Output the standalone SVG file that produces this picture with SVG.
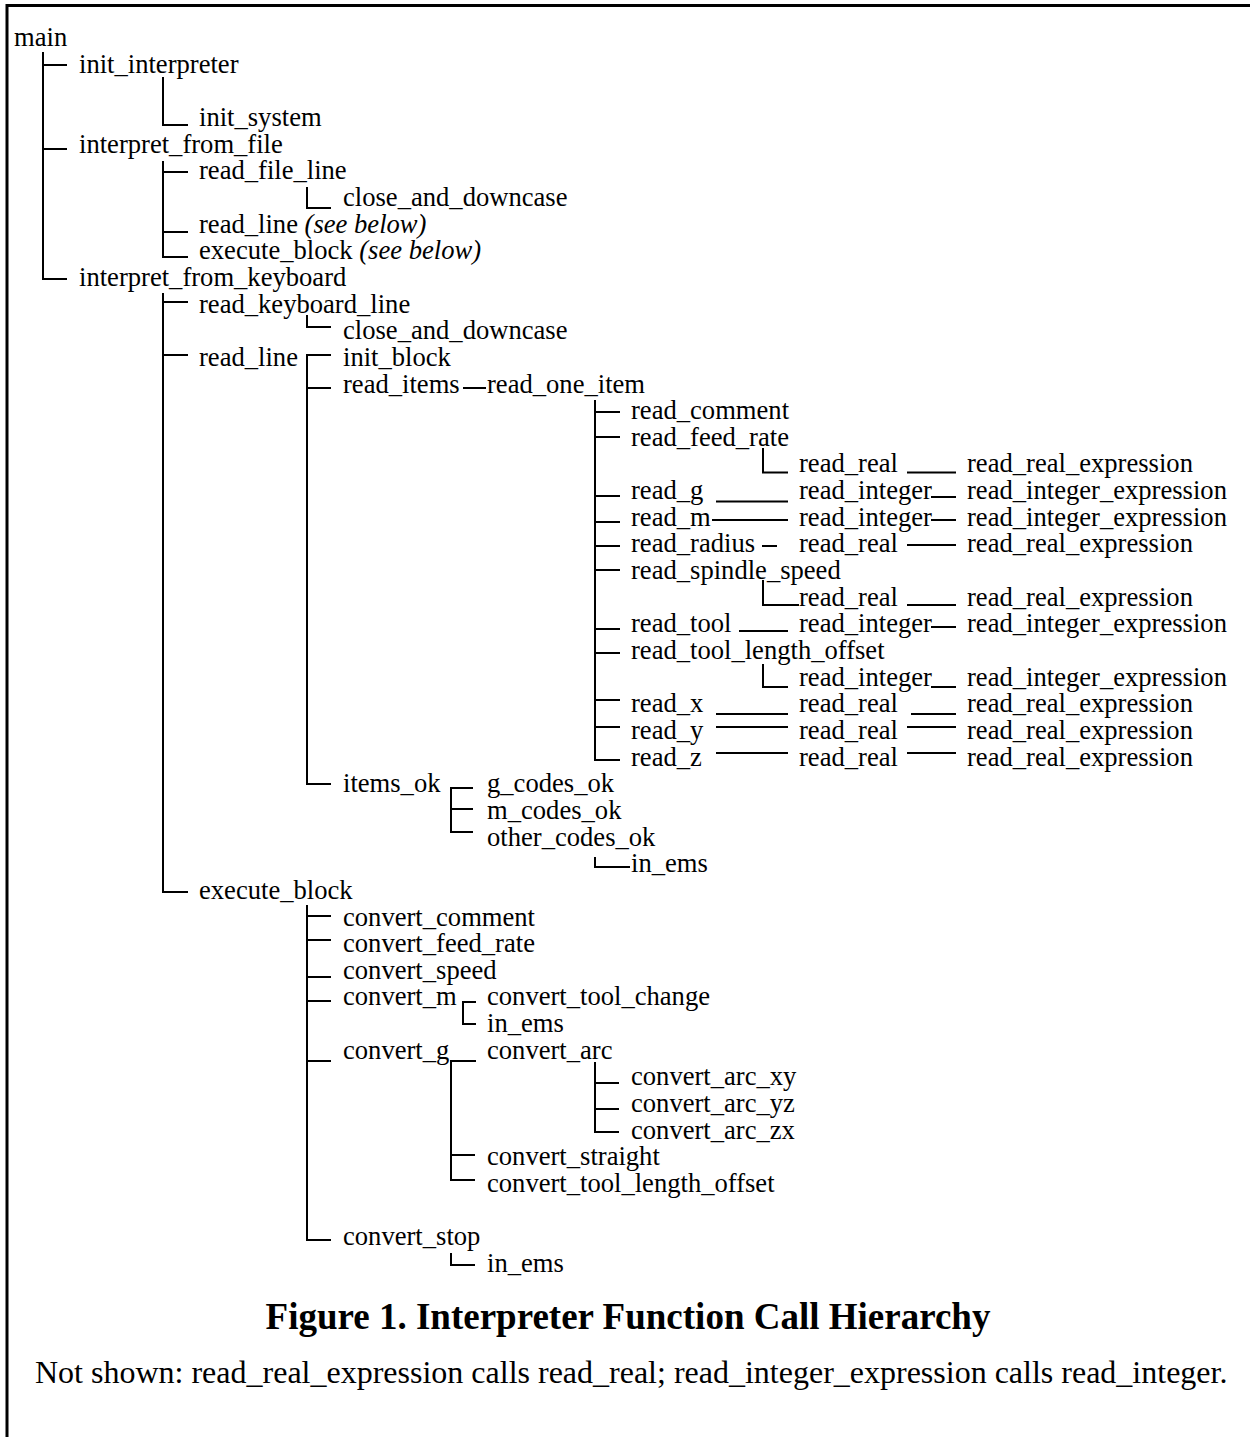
<svg xmlns="http://www.w3.org/2000/svg" width="1250" height="1437" viewBox="0 0 1250 1437">
<style>
text{font-family:"Liberation Serif","Times New Roman",serif;font-size:26.6px;fill:#000}
.it{font-style:italic}
.title{font-size:37px;font-weight:bold}
.note{font-size:32px}
.c path{fill:none;stroke:#000;stroke-width:2}
.frame{fill:none;stroke:#000;stroke-width:3}
</style>
<rect width="1250" height="1437" fill="#fff"/>
<path class="frame" d="M7,1437 V5.5 H1250"/>
<g class="c" id="connectors">
<path d="M43,52 V279 H67 M43,65 H67 M43,149 H67"/>
<path d="M163,77 V125 H188"/>
<path d="M163,161 V257 H188 M163,172 H188 M163,232 H188"/>
<path d="M307,187 V208 H331"/>
<path d="M163,293 V892 H188 M163,302 H188 M163,355 H188"/>
<path d="M307,315 V327 H331"/>
<path d="M331,355 H307 V784 H331 M307,388 H331"/>
<path d="M463,388 H486"/>
<path d="M595,400 V760 H620 M595,412 H620 M595,437 H620 M595,496 H620 M595,522 H620 M595,546 H620 M595,570 H620 M595,629 H620 M595,653 H620 M595,700 H620 M595,727 H620"/>
<path d="M763,448 V472.5 H788"/>
<path d="M907,472.5 H956"/>
<path d="M716,501.5 H788 M931,497 H956"/>
<path d="M712,520 H788 M931,520 H956"/>
<path d="M762,546 H777 M907,545 H956"/>
<path d="M763,580 V605 H799 M907,605 H956"/>
<path d="M739,631 H788 M931,627 H956"/>
<path d="M763,664 V687 H788 M931,687 H956"/>
<path d="M716,714 H788 M911,714 H956"/>
<path d="M716,727 H788 M907,727 H956"/>
<path d="M716,753 H788 M907,753 H956"/>
<path d="M473,788 H451 V832 H473 M451,809 H473"/>
<path d="M595,857 V867 H630"/>
<path d="M307,905 V1240 H331 M307,916 H331 M307,940 H331 M307,977 H331 M307,1001 H331 M307,1061 H331"/>
<path d="M476,1002 H463 V1024 H476"/>
<path d="M476,1061 H451 V1180 H475 M451,1155 H475"/>
<path d="M595,1062 V1132 H619 M595,1083 H619 M595,1109 H619"/>
<path d="M451,1253 V1265 H475"/>
</g>
<g id="nodes">
<g id="n_main"><text x="14" y="46">main</text></g>
<g id="n_init_interpreter"><text x="79" y="72.7">init_interpreter</text></g>
<g id="n_init_system"><text x="199" y="126">init_system</text></g>
<g id="n_interpret_from_file"><text x="79" y="152.6">interpret_from_file</text></g>
<g id="n_read_file_line"><text x="199" y="179.3">read_file_line</text></g>
<g id="n_close_and_downcase_1"><text x="343" y="205.9">close_and_downcase</text></g>
<g id="n_read_line_1"><text x="199" y="232.6">read_line <tspan class="it">(see below)</tspan></text></g>
<g id="n_execute_block_1"><text x="199" y="259.2">execute_block <tspan class="it">(see below)</tspan></text></g>
<g id="n_interpret_from_keyboard"><text x="79" y="285.9">interpret_from_keyboard</text></g>
<g id="n_read_keyboard_line"><text x="199" y="312.5">read_keyboard_line</text></g>
<g id="n_close_and_downcase_2"><text x="343" y="339.2">close_and_downcase</text></g>
<g id="n_read_line_2"><text x="199" y="365.8">read_line</text></g>
<g id="n_init_block"><text x="343" y="365.8">init_block</text></g>
<g id="n_read_items"><text x="343" y="392.5">read_items</text></g>
<g id="n_read_one_item"><text x="487" y="392.5">read_one_item</text></g>
<g id="n_read_comment"><text x="631" y="419.1">read_comment</text></g>
<g id="n_read_feed_rate"><text x="631" y="445.8">read_feed_rate</text></g>
<g id="n_read_real_1"><text x="799" y="472.4">read_real</text></g>
<g id="n_rre_1"><text x="967" y="472.4">read_real_expression</text></g>
<g id="n_read_g"><text x="631" y="499.1">read_g</text></g>
<g id="n_read_integer_1"><text x="799" y="499.1">read_integer</text></g>
<g id="n_rie_1"><text x="967" y="499.1">read_integer_expression</text></g>
<g id="n_read_m"><text x="631" y="525.7">read_m</text></g>
<g id="n_read_integer_2"><text x="799" y="525.7">read_integer</text></g>
<g id="n_rie_2"><text x="967" y="525.7">read_integer_expression</text></g>
<g id="n_read_radius"><text x="631" y="552.4">read_radius</text></g>
<g id="n_read_real_2"><text x="799" y="552.4">read_real</text></g>
<g id="n_rre_2"><text x="967" y="552.4">read_real_expression</text></g>
<g id="n_read_spindle_speed"><text x="631" y="579">read_spindle_speed</text></g>
<g id="n_read_real_3"><text x="799" y="605.7">read_real</text></g>
<g id="n_rre_3"><text x="967" y="605.7">read_real_expression</text></g>
<g id="n_read_tool"><text x="631" y="632.3">read_tool</text></g>
<g id="n_read_integer_3"><text x="799" y="632.3">read_integer</text></g>
<g id="n_rie_3"><text x="967" y="632.3">read_integer_expression</text></g>
<g id="n_read_tool_length_offset"><text x="631" y="659">read_tool_length_offset</text></g>
<g id="n_read_integer_4"><text x="799" y="685.6">read_integer</text></g>
<g id="n_rie_4"><text x="967" y="685.6">read_integer_expression</text></g>
<g id="n_read_x"><text x="631" y="712.3">read_x</text></g>
<g id="n_read_real_4"><text x="799" y="712.3">read_real</text></g>
<g id="n_rre_4"><text x="967" y="712.3">read_real_expression</text></g>
<g id="n_read_y"><text x="631" y="738.9">read_y</text></g>
<g id="n_read_real_5"><text x="799" y="738.9">read_real</text></g>
<g id="n_rre_5"><text x="967" y="738.9">read_real_expression</text></g>
<g id="n_read_z"><text x="631" y="765.6">read_z</text></g>
<g id="n_read_real_6"><text x="799" y="765.6">read_real</text></g>
<g id="n_rre_6"><text x="967" y="765.6">read_real_expression</text></g>
<g id="n_items_ok"><text x="343" y="792.2">items_ok</text></g>
<g id="n_g_codes_ok"><text x="487" y="792.2">g_codes_ok</text></g>
<g id="n_m_codes_ok"><text x="487" y="818.9">m_codes_ok</text></g>
<g id="n_other_codes_ok"><text x="487" y="845.5">other_codes_ok</text></g>
<g id="n_in_ems_1"><text x="631" y="872.2">in_ems</text></g>
<g id="n_execute_block_2"><text x="199" y="898.8">execute_block</text></g>
<g id="n_convert_comment"><text x="343" y="925.5">convert_comment</text></g>
<g id="n_convert_feed_rate"><text x="343" y="952.1">convert_feed_rate</text></g>
<g id="n_convert_speed"><text x="343" y="978.8">convert_speed</text></g>
<g id="n_convert_m"><text x="343" y="1005.4">convert_m</text></g>
<g id="n_convert_tool_change"><text x="487" y="1005.4">convert_tool_change</text></g>
<g id="n_in_ems_2"><text x="487" y="1032.1">in_ems</text></g>
<g id="n_convert_g"><text x="343" y="1058.7">convert_g</text></g>
<g id="n_convert_arc"><text x="487" y="1058.7">convert_arc</text></g>
<g id="n_convert_arc_xy"><text x="631" y="1085.4">convert_arc_xy</text></g>
<g id="n_convert_arc_yz"><text x="631" y="1112">convert_arc_yz</text></g>
<g id="n_convert_arc_zx"><text x="631" y="1138.7">convert_arc_zx</text></g>
<g id="n_convert_straight"><text x="487" y="1165.3">convert_straight</text></g>
<g id="n_convert_tool_length_offset"><text x="487" y="1192">convert_tool_length_offset</text></g>
<g id="n_convert_stop"><text x="343" y="1245.3">convert_stop</text></g>
<g id="n_in_ems_3"><text x="487" y="1271.9">in_ems</text></g>
</g>
<g id="caption">
<text class="title" x="628" y="1329" text-anchor="middle">Figure 1. Interpreter Function Call Hierarchy</text>
<text class="note" x="35" y="1383">Not shown: read_real_expression calls read_real; read_integer_expression calls read_integer.</text>
</g>
</svg>
